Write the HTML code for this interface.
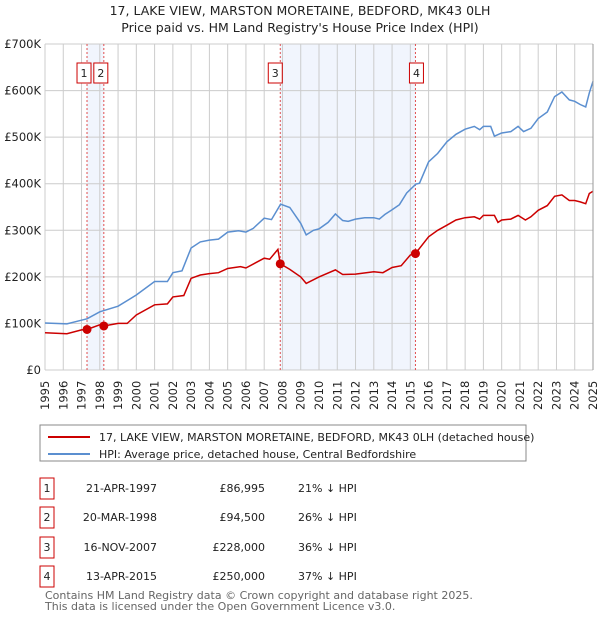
<!DOCTYPE html>
<html><head><meta charset="utf-8"><style>
body{margin:0;background:#fff;font-family:"Liberation Sans","DejaVu Sans",sans-serif;}
svg text{font-family:"DejaVu Sans","Liberation Sans",sans-serif;}
</style></head><body>
<svg id="c" width="600" height="620" viewBox="0 0 600 620" xmlns="http://www.w3.org/2000/svg">
<text x="300" y="15" text-anchor="middle" font-size="12.5" fill="#222">17, LAKE VIEW, MARSTON MORETAINE, BEDFORD, MK43 0LH</text>
<text x="300" y="32" text-anchor="middle" font-size="12.5" fill="#222">Price paid vs. HM Land Registry's House Price Index (HPI)</text>
<g id="plot"></g>
<g id="legend">
<rect x="40" y="425" width="486" height="36" fill="#fff" stroke="#888" stroke-width="1"/>
<line x1="48" y1="437" x2="90" y2="437" stroke="#cc0000" stroke-width="2"/>
<text x="99" y="441" font-size="11" fill="#222">17, LAKE VIEW, MARSTON MORETAINE, BEDFORD, MK43 0LH (detached house)</text>
<line x1="48" y1="454" x2="90" y2="454" stroke="#5b8fd0" stroke-width="2"/>
<text x="99" y="458" font-size="11" fill="#222">HPI: Average price, detached house, Central Bedfordshire</text>
</g>
<g id="table"></g>
<text x="45" y="599" font-size="11" fill="#666">Contains HM Land Registry data © Crown copyright and database right 2025.</text>
<text x="45" y="610" font-size="11" fill="#666">This data is licensed under the Open Government Licence v3.0.</text>
</svg>
<script>
const yTicks=[0,100000,200000,300000,400000,500000,600000,700000];
const yTickLabels=["£0","£100K","£200K","£300K","£400K","£500K","£600K","£700K"];
const xYears=[1995,1996,1997,1998,1999,2000,2001,2002,2003,2004,2005,2006,2007,2008,2009,2010,2011,2012,2013,2014,2015,2016,2017,2018,2019,2020,2021,2022,2023,2024,2025];
const hpiT=[1995,1996.2,1997,1997.3,1998,1999,2000,2001,2001.7,2002,2002.5,2003,2003.5,2004,2004.5,2005,2005.6,2006,2006.4,2007,2007.4,2007.9,2008.4,2009,2009.3,2009.7,2010,2010.5,2010.9,2011.3,2011.6,2012,2012.5,2013,2013.3,2013.6,2014,2014.4,2014.8,2015.3,2015.5,2016,2016.5,2017,2017.5,2018,2018.5,2018.8,2019,2019.4,2019.6,2020,2020.5,2020.9,2021.2,2021.6,2022,2022.5,2022.9,2023.3,2023.7,2024,2024.3,2024.6,2024.8,2025];
const hpiV=[101000,99000,107000,110000,125000,137000,161000,190000,190000,209000,213000,262000,275000,279000,281000,296000,299000,296000,304000,326000,323000,356000,349000,315000,290000,300000,303000,317000,335000,321000,319000,324000,327000,327000,324000,334000,344000,355000,380000,399000,401000,447000,465000,490000,506000,517000,523000,516000,523000,523000,502000,509000,512000,523000,512000,519000,540000,554000,587000,597000,580000,577000,570000,565000,595000,620000];
const ppT=[1995,1996.2,1997,1997.3,1998,1998.22,1999,1999.5,2000,2001,2001.7,2002,2002.6,2003,2003.5,2004,2004.5,2005,2005.7,2006,2007,2007.3,2007.75,2007.88,2008.4,2009,2009.3,2010,2010.9,2011.3,2012,2013,2013.5,2014,2014.5,2015,2015.28,2016,2016.5,2017,2017.5,2018,2018.5,2018.8,2019,2019.6,2019.8,2020,2020.5,2020.9,2021.3,2021.6,2022,2022.5,2022.9,2023.3,2023.7,2024,2024.3,2024.6,2024.8,2025];
const ppV=[80000,78000,86000,87000,97000,94500,100000,100000,118000,140000,142000,157000,160000,197000,204000,207000,209000,218000,222000,219000,240000,238000,259000,228000,216000,200000,186000,200000,215000,205000,206000,211000,209000,220000,224000,247000,250000,286000,300000,311000,322000,327000,329000,324000,332000,332000,317000,322000,324000,332000,322000,329000,343000,353000,373000,376000,364000,364000,361000,357000,379000,384000];
const saleLabels=["1","2","3","4"];
const saleT=[1997.3,1998.22,2007.88,2015.28];
const saleV=[86995,94500,228000,250000];
const saleDates=["21-APR-1997","20-MAR-1998","16-NOV-2007","13-APR-2015"];
const salePrices=["£86,995","£94,500","£228,000","£250,000"];
const salePct=["21% ↓ HPI","26% ↓ HPI","36% ↓ HPI","37% ↓ HPI"];
const shadeFrom=[1997.3,2007.88];
const shadeTo=[1998.22,2015.28];
const labelOffset=[-10,-10,-12,-6];

const L=45,R=593,T=44,B=370;
const X=t=>L+(t-1995)/30*(R-L);
const Y=v=>B-v/700000*(B-T);
const NS="http://www.w3.org/2000/svg";
const plot=document.getElementById('plot');
function mk(tag,at,parent){const e=document.createElementNS(NS,tag);for(const k in at)e.setAttribute(k,at[k]);(parent||plot).appendChild(e);return e;}
for(let i=0;i<shadeFrom.length;i++){
 const r=mk('rect',{x:X(shadeFrom[i]),y:T,width:X(shadeTo[i])-X(shadeFrom[i]),height:B-T,fill:'#f1f5fd'});
 
 
}
xYears.forEach(y=>{const l=mk('line',{x1:X(y),x2:X(y),y1:T,y2:B,stroke:'#ccc','stroke-width':1});
 
 
 const t=mk('text',{x:0,y:0,transform:`translate(${X(y)+4},${B+40}) rotate(-90)`,'font-size':11.5,fill:'#222'});
 t.textContent=y;
 
 
});
yTicks.forEach((v,i)=>{const l=mk('line',{x1:L,x2:R,y1:Y(v),y2:Y(v),stroke:'#ccc','stroke-width':1});
 
 
 const t=mk('text',{x:L-4,y:Y(v)+4,'text-anchor':'end','font-size':11.5,fill:'#222'});
 t.textContent=yTickLabels[i];
 
 
});
saleT.forEach((t,i)=>{const l=mk('line',{x1:X(t),x2:X(t),y1:T,y2:B,stroke:'#e05050','stroke-width':1,'stroke-dasharray':'2,2'});
 
 
});
const pts=(ts,vs)=>ts.map((t,i)=>X(t).toFixed(1)+','+Y(vs[i]).toFixed(1)).join(' ');
const h=mk('polyline',{points:pts(hpiT,hpiV),fill:'none',stroke:'#5b8fd0','stroke-width':1.5});


const p=mk('polyline',{points:pts(ppT,ppV),fill:'none',stroke:'#cc0000','stroke-width':1.5});


saleT.forEach((t,i)=>{
 const c=mk('circle',{cx:X(t),cy:Y(saleV[i]),r:4.5,fill:'#cc0000'});
 
 
 const g=mk('g',{});
 
 
 const x0=X(t)+labelOffset[i];
 mk('rect',{x:x0,y:63,width:14,height:20,fill:'#fff',stroke:'#cc0000','stroke-width':1},g);
 const tx=mk('text',{x:x0+7,y:77,'text-anchor':'middle','font-size':11,fill:'#222'},g);
 tx.textContent=saleLabels[i];
});
mk('line',{x1:R,x2:R,y1:T,y2:B,stroke:'#999','stroke-width':1});
const tb=document.getElementById('table');
const rowY=[488,517,547,576];
saleLabels.forEach((s,i)=>{
 const g=mk('g',{},tb);
 
 
 mk('rect',{x:40,y:rowY[i]-10,width:14,height:21,fill:'#fff',stroke:'#cc0000','stroke-width':1},g);
 const a=mk('text',{x:47,y:rowY[i]+4,'text-anchor':'middle','font-size':11,fill:'#222'},g);a.textContent=s;
 const d=mk('text',{x:157,y:rowY[i]+4,'text-anchor':'end','font-size':11,fill:'#222'},g);d.textContent=saleDates[i];
 const pr=mk('text',{x:265,y:rowY[i]+4,'text-anchor':'end','font-size':11,fill:'#222'},g);pr.textContent=salePrices[i];
 const pc=mk('text',{x:298,y:rowY[i]+4,'font-size':11,fill:'#222'},g);pc.textContent=salePct[i];
});
</script>
</body></html>
